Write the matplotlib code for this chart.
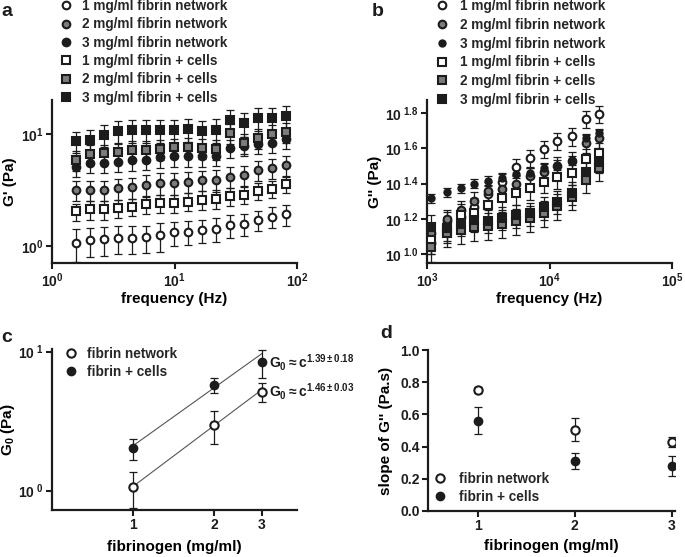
import numpy as np
import matplotlib
matplotlib.use('Agg')
import matplotlib.pyplot as plt
from matplotlib.ticker import FixedLocator, FixedFormatter, NullLocator

plt.rcParams['font.family'] = ['Liberation Sans', 'DejaVu Sans']
plt.rcParams['font.weight'] = 'bold'
plt.rcParams['axes.labelweight'] = 'bold'
plt.rcParams['mathtext.fontset'] = 'custom'
plt.rcParams['mathtext.rm'] = 'Liberation Sans'
plt.rcParams['mathtext.bf'] = 'Liberation Sans:bold'
plt.rcParams['mathtext.it'] = 'Liberation Sans:italic'
plt.rcParams['mathtext.sf'] = 'Liberation Sans'

INK = '#1c1c1c'
GREY = '#7c7c7c'
W, H = 685, 557

# ---------- panel a: G' vs frequency ----------
freq_a = [1.57, 2.04, 2.66, 3.46, 4.50, 5.86, 7.62, 9.92, 12.9, 16.8,
          21.8, 28.4, 37.0, 48.1, 62.6, 81.5]
gp_net1 = [1.07, 1.12, 1.15, 1.17, 1.17, 1.19, 1.24, 1.32, 1.34, 1.39,
           1.43, 1.53, 1.57, 1.71, 1.83, 1.92]
gp_net2 = [3.16, 3.16, 3.16, 3.27, 3.32, 3.51, 3.63, 3.63, 3.75, 3.88,
           3.88, 4.16, 4.31, 4.77, 4.93, 5.28]
gp_net3 = [5.10, 5.47, 5.47, 5.66, 5.78, 5.86, 6.15, 6.28, 6.28, 6.28,
           6.37, 7.45, 7.82, 8.15, 8.26, 8.96]
gp_cell1 = [2.03, 2.12, 2.12, 2.17, 2.24, 2.36, 2.40, 2.40, 2.49, 2.58,
            2.63, 2.79, 2.85, 3.12, 3.21, 3.56]
gp_cell2 = [5.86, 6.62, 6.72, 6.95, 7.20, 7.20, 7.35, 7.55, 7.70, 7.45,
            7.30, 10.1, 8.26, 9.15, 10.0, 10.35]
gp_cell3 = [8.55, 8.83, 9.80, 10.5, 10.8, 10.8, 10.8, 10.8, 11.0, 10.6,
            10.9, 13.2, 12.4, 13.8, 13.8, 14.3]
gp_err_net1 = [0.35, 0.33, 0.33, 0.33, 0.33, 0.33, 0.35, 0.33, 0.33, 0.33,
               0.35, 0.35, 0.35, 0.35, 0.38, 0.40]
gp_err_net2 = [0.65, 0.65, 0.65, 0.70, 0.70, 0.75, 0.80, 0.80, 0.80, 0.80,
               0.85, 0.90, 0.90, 1.00, 1.00, 1.10]
gp_err_net3 = [1.0, 1.0, 1.0, 1.1, 1.1, 1.1, 1.2, 1.2, 1.2, 1.2,
               1.2, 1.4, 1.5, 1.5, 1.5, 1.6]
gp_err_cell1 = [0.35, 0.40, 0.40, 0.40, 0.40, 0.45, 0.45, 0.45, 0.45, 0.50,
                0.50, 0.50, 0.50, 0.55, 0.55, 0.60]
gp_err_cell2 = [1.2, 1.3, 1.3, 1.4, 1.4, 1.4, 1.5, 1.5, 1.5, 1.5,
                1.5, 2.0, 1.7, 1.8, 2.0, 2.0]
gp_err_cell3 = [1.8, 1.9, 2.2, 2.4, 2.5, 2.5, 2.5, 2.5, 2.6, 2.5,
                2.6, 3.2, 3.0, 3.3, 3.3, 3.3]

# ---------- panel b: G'' vs frequency ----------
freq_b = [1072, 1466, 1884, 2432, 3126, 4074, 5333, 6934, 9016, 11590,
          15200, 19770, 25530]
gpp_net1 = [11.5, 15.5, 16.2, 18.6, 21.9, 25.7, 31.3, 35.2, 39.5, 43.9, 46.8, 58.2, 62.2]
gpp_net2 = [13.2, 15.9, 17.8, 20.0, 22.9, 23.3, 25.1, 27.7, 29.4, 31.6, 33.9, 42.7, 45.4]
gpp_net3 = [20.7, 22.4, 23.6, 25.1, 26.1, 26.9, 28.6, 29.0, 30.7, 32.1, 34.2, 45.4, 48.5]
gpp_cell1 = [12.0, 13.5, 16.7, 17.0, 19.0, 20.9, 22.2, 23.8, 25.8, 27.3, 28.8, 34.5, 37.3]
gpp_cell2 = [11.0, 13.2, 13.7, 14.3, 14.5, 14.8, 15.5, 16.0, 17.2, 18.8, 21.2, 26.5, 30.7]
gpp_cell3 = [14.3, 14.0, 14.9, 15.7, 15.5, 16.1, 16.6, 17.0, 18.4, 19.8, 22.3, 29.4, 33.4]
gpp_err_net1 = [1.5, 1.8, 2.0, 2.2, 2.6, 3.0, 3.5, 4.0, 4.5, 5.0, 5.5, 6.5, 7.0]
gpp_err_net2 = [1.8, 2.0, 2.2, 2.4, 2.8, 2.8, 3.0, 3.3, 3.5, 3.8, 4.0, 5.0, 5.5]
gpp_err_net3 = [1.3, 1.3, 1.4, 1.5, 1.5, 1.5, 1.7, 1.7, 1.8, 1.9, 2.0, 2.7, 2.9]
gpp_err_cell1 = [2.0, 2.0, 2.5, 2.5, 2.8, 3.0, 3.2, 3.4, 3.6, 3.8, 4.0, 4.8, 5.2]
gpp_err_cell2 = [2.0, 2.3, 2.3, 2.4, 2.5, 2.5, 2.6, 2.7, 2.9, 3.1, 3.5, 4.3, 4.6]
gpp_err_cell3 = [2.3, 2.2, 2.3, 2.4, 2.4, 2.4, 2.5, 2.5, 2.7, 2.9, 3.2, 4.2, 4.6]

series_labels = ['1 mg/ml fibrin network', '2 mg/ml fibrin network',
                 '3 mg/ml fibrin network', '1 mg/ml fibrin + cells',
                 '2 mg/ml fibrin + cells', '3 mg/ml fibrin + cells']

# ---------- panel c: plateau modulus vs fibrinogen ----------
conc = [1, 2, 3]
g0_net = [1.06, 2.97, 5.15]
g0_net_err = [0.31, 0.80, 0.80]
g0_cell = [2.02, 5.76, 8.38]
g0_cell_err = [0.35, 0.75, 1.95]
fit_exp = [1.46, 1.39]          # network, cells
fit_pref = [1.07, 2.10]
fit_text = [r'$\mathrm{G_0}\approx\mathbf{c}^{\mathbf{1.46\pm0.03}}$',
            r'$\mathrm{G_0}\approx\mathbf{c}^{\mathbf{1.39\pm0.18}}$']

# ---------- panel d: slope of G'' ----------
slope_net = [0.75, 0.505, 0.43]
slope_net_err = [0.02, 0.07, 0.03]
slope_cell = [0.56, 0.31, 0.28]
slope_cell_err = [0.083, 0.05, 0.06]
pair_labels = ['fibrin network', 'fibrin + cells']

markers6 = [('o', 'white'), ('o', GREY), ('o', INK),
            ('s', 'white'), ('s', GREY), ('s', INK)]


def px_axes(fig, left, right, top, bottom):
    return fig.add_axes([left / W, 1 - bottom / H, (right - left) / W, (bottom - top) / H])


def style_axes(ax):
    for side in ('top', 'right'):
        ax.spines[side].set_visible(False)
    for side in ('left', 'bottom'):
        ax.spines[side].set_linewidth(1.6)
        ax.spines[side].set_color(INK)
    ax.tick_params(direction='out', length=4, width=1.5, colors=INK,
                   labelsize=10, pad=2)
    ax.tick_params(which='minor', length=0)


def draw(ax, x, y, err, marker, face, label, ms=5.5):
    ax.errorbar(x, y, yerr=err, fmt='none', ecolor=INK, elinewidth=0.9,
                capsize=3, capthick=0.9, zorder=2)
    h, = ax.plot(x, y, linestyle='none', marker=marker, ms=ms,
                 mfc=face, mec=INK, mew=1.5, label=label, zorder=3)
    return h


def put_legend(ax, fig, handles, left, top, pad, spacing):
    ax.legend(handles=handles, loc='upper left', frameon=False,
              bbox_to_anchor=(left / W, 1 - top / H), bbox_transform=fig.transFigure,
              borderpad=0, borderaxespad=0, handlelength=1.0, handletextpad=pad,
              labelspacing=spacing, prop={'size': 9.8, 'weight': 'bold'},
              labelcolor='#262626')


fig = plt.figure(figsize=(W / 100, H / 100), dpi=100)

# ---- a ----
ax_a = px_axes(fig, 52, 297, 100, 263)
style_axes(ax_a)
ax_a.set_xscale('log')
ax_a.set_yscale('log')
data_a = [(gp_net1, gp_err_net1), (gp_net2, gp_err_net2), (gp_net3, gp_err_net3),
          (gp_cell1, gp_err_cell1), (gp_cell2, gp_err_cell2), (gp_cell3, gp_err_cell3)]
hs = []
for (vals, errs), (mk, fc), lab in zip(data_a, markers6, series_labels):
    hs.append(draw(ax_a, freq_a, vals, errs, mk, fc, lab))
ax_a.set_xlim(1, 100)
ax_a.set_ylim(0.705, 20)
ax_a.xaxis.set_major_locator(FixedLocator([1, 10, 100]))
ax_a.xaxis.set_major_formatter(FixedFormatter([r'$\mathbf{10^{0}}$', r'$\mathbf{10^{1}}$', r'$\mathbf{10^{2}}$']))
ax_a.yaxis.set_major_locator(FixedLocator([1, 10]))
ax_a.yaxis.set_major_formatter(FixedFormatter([r'$\mathbf{10^{0}}$', r'$\mathbf{10^{1}}$']))
ax_a.xaxis.set_minor_locator(NullLocator())
ax_a.yaxis.set_minor_locator(NullLocator())
ax_a.set_xlabel('frequency (Hz)', fontsize=11)
ax_a.set_ylabel("G' (Pa)", fontsize=11)
ax_a.xaxis.set_label_coords(0.5, -0.178)
ax_a.yaxis.set_label_coords(-0.143, 0.5)
put_legend(ax_a, fig, hs, 59, -1, 0.72, 0.32)

# ---- b ----
ax_b = px_axes(fig, 427, 672, 100, 263)
style_axes(ax_b)
ax_b.set_xscale('log')
ax_b.set_yscale('log')
data_b = [(gpp_net1, gpp_err_net1), (gpp_net2, gpp_err_net2), (gpp_net3, gpp_err_net3),
          (gpp_cell1, gpp_err_cell1), (gpp_cell2, gpp_err_cell2), (gpp_cell3, gpp_err_cell3)]
hs = []
for i, ((vals, errs), (mk, fc), lab) in enumerate(zip(data_b, markers6, series_labels)):
    hs.append(draw(ax_b, freq_b, vals, errs, mk, fc, lab, ms=4.5 if i == 2 else 5.5))
ax_b.set_xlim(1000, 100000)
ax_b.set_ylim(10 ** 0.949, 10 ** 1.875)
ax_b.xaxis.set_major_locator(FixedLocator([1e3, 1e4, 1e5]))
ax_b.xaxis.set_major_formatter(FixedFormatter([r'$\mathbf{10^{3}}$', r'$\mathbf{10^{4}}$', r'$\mathbf{10^{5}}$']))
b_exps = ['1.0', '1.2', '1.4', '1.6', '1.8']
ax_b.yaxis.set_major_locator(FixedLocator([10 ** float(e) for e in b_exps]))
ax_b.yaxis.set_major_formatter(FixedFormatter([r'$\mathbf{10}^{\ \mathbf{%s}}$' % e for e in b_exps]))
ax_b.xaxis.set_minor_locator(NullLocator())
ax_b.yaxis.set_minor_locator(NullLocator())
ax_b.set_xlabel('frequency (Hz)', fontsize=11)
ax_b.set_ylabel("G'' (Pa)", fontsize=11)
ax_b.xaxis.set_label_coords(0.5, -0.178)
ax_b.yaxis.set_label_coords(-0.184, 0.5)
put_legend(ax_b, fig, hs, 435, -1, 0.87, 0.35)

# ---- c ----
ax_c = px_axes(fig, 52, 297, 349, 510)
style_axes(ax_c)
ax_c.set_xscale('log')
ax_c.set_yscale('log')
xs = np.array([1.0, 3.0])
for pref, ex in zip(fit_pref, fit_exp):
    ax_c.plot(xs, pref * xs ** ex, color='#555555', lw=0.8, zorder=1)
h1 = draw(ax_c, conc, g0_net, g0_net_err, 'o', 'white', pair_labels[0], ms=6)
h2 = draw(ax_c, conc, g0_cell, g0_cell_err, 'o', INK, pair_labels[1], ms=5.5)
ax_c.text(3.2, g0_net[-1], fit_text[0], fontsize=10, ha='left', va='center', color=INK, clip_on=False)
ax_c.text(3.2, g0_cell[-1], fit_text[1], fontsize=10, ha='left', va='center', color=INK, clip_on=False)
ax_c.set_xlim(0.502, 4.05)
ax_c.set_ylim(0.726, 10.45)
ax_c.xaxis.set_major_locator(FixedLocator([1, 2, 3]))
ax_c.xaxis.set_major_formatter(FixedFormatter(['1', '2', '3']))
ax_c.yaxis.set_major_locator(FixedLocator([1, 10]))
ax_c.yaxis.set_major_formatter(FixedFormatter([r'$\mathbf{10^{\ 0}}$', r'$\mathbf{10^{\ 1}}$']))
ax_c.xaxis.set_minor_locator(NullLocator())
ax_c.yaxis.set_minor_locator(NullLocator())
ax_c.set_xlabel('fibrinogen (mg/ml)', fontsize=11)
ax_c.set_ylabel(r'G$_\mathbf{0}$ (Pa)', fontsize=11)
ax_c.xaxis.set_label_coords(0.5, -0.186)
ax_c.yaxis.set_label_coords(-0.143, 0.5)
put_legend(ax_c, fig, [h1, h2], 64, 347, 0.72, 0.3)

# ---- d ----
ax_d = px_axes(fig, 428, 675, 350, 511)
style_axes(ax_d)
h1 = draw(ax_d, conc, slope_net, slope_net_err, 'o', 'white', pair_labels[0], ms=6)
h2 = draw(ax_d, conc, slope_cell, slope_cell_err, 'o', INK, pair_labels[1], ms=5.5)
ax_d.set_xlim(0.488, 3.034)
ax_d.set_ylim(0, 1.0)
ax_d.set_xticks([1, 2, 3])
ax_d.set_yticks([0, 0.2, 0.4, 0.6, 0.8, 1.0])
ax_d.set_yticklabels(['0.0', '0.2', '0.4', '0.6', '0.8', '1.0'])
ax_d.set_xlabel('fibrinogen (mg/ml)', fontsize=11)
ax_d.set_ylabel("slope of G'' (Pa.s)", fontsize=11)
ax_d.xaxis.set_label_coords(0.5, -0.174)
ax_d.yaxis.set_label_coords(-0.142, 0.5)
put_legend(ax_d, fig, [h1, h2], 433, 472, 0.94, 0.3)

# panel letters
for lx, ly, letter in [(1, 3, 'a'), (372, 3, 'b'), (1, 329, 'c'), (380, 325, 'd')]:
    fig.text(lx / W, 1 - ly / H, letter, fontsize=14, fontweight='bold',
             ha='left', va='top', color=INK)

fig.savefig('out.png', dpi=100)
